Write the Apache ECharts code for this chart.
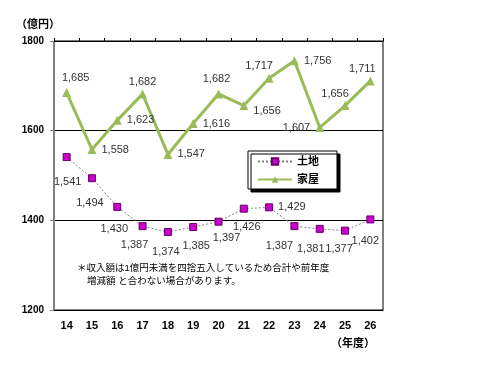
<!DOCTYPE html>
<html><head><meta charset="utf-8">
<script src="https://cdn.jsdelivr.net/npm/echarts@6/dist/echarts.min.js"></script>
<style>html,body{margin:0;padding:0;background:#fff}#c{width:480px;height:371px}</style>
</head><body><div id="c"></div>
<script>
const categories = ['14','15','16','17','18','19','20','21','22','23','24','25','26'];
const landValues = [1541,1494,1430,1387,1374,1385,1397,1426,1429,1387,1381,1377,1402];
const houseValues = [1685,1558,1623,1682,1547,1616,1682,1656,1717,1756,1607,1656,1711];
const yTicks = [1200,1400,1600,1800];
const seriesNames = ['土地','家屋'];

// label placement styling (not data)
const houseLabelPos = [
  ['top',[9,0]],['right',[0,0]],['right',[0,0]],['top',[0,3]],['right',[0,0]],['right',[0,0]],
  ['top',[-2,0]],['right',[0,5]],['top',[-10,3]],['right',[0,0]],['left',[0,0]],['top',[-10,3]],['top',[-8,3]]
];
const landLabelPos = [
  ['bottom',[1,10]],['bottom',[-2,10]],['bottom',[-3,8]],['bottom',[-8,4]],['bottom',[-2,5]],['bottom',[3,4]],
  ['bottom',[8,2]],['bottom',[3,4]],['right',[0,0]],['bottom',[-15,5]],['bottom',[-9,6]],['bottom',[-6,4]],['bottom',[-5,7]]
];
const FONT = '"Liberation Sans", "Noto Sans CJK JP", sans-serif';
const fmt = v => v.toLocaleString('en-US');

function withLabels(values, pos) {
  return values.map((v, i) => ({
    value: v,
    label: { position: pos[i][0], offset: pos[i][1] }
  }));
}

const chart = echarts.init(document.getElementById('c'), null, {renderer: 'canvas'});
chart.setOption({
  animation: false,
  backgroundColor: '#fff',
  grid: { left: 54, right: 97, top: 41, bottom: 61, show: true, borderColor: '#000', borderWidth: 1, backgroundColor: 'transparent' },
  legend: {
    orient: 'vertical', left: 248, top: 151,
    data: seriesNames,
    backgroundColor: '#fff', borderColor: '#000', borderWidth: 1,
    shadowColor: '#000', shadowOffsetX: 3, shadowOffsetY: 3, shadowBlur: 0,
    padding: [5, 18, 4, 9], itemGap: 7, itemWidth: 34, itemHeight: 8,
    textStyle: { fontFamily: FONT, fontWeight: 'bold', fontSize: 11, color: '#000' }
  },
  xAxis: [{
    type: 'category', data: categories, position: 'bottom', boundaryGap: true,
    axisLine: { show: true, lineStyle: { color: '#000', width: 1 } },
    axisTick: { show: false },
    axisLabel: { margin: 10, fontFamily: FONT, fontWeight: 'bold', fontSize: 11, color: '#000' }
  }, {
    type: 'category', data: categories, position: 'top', boundaryGap: true,
    axisLine: { show: true, lineStyle: { color: '#000', width: 1 } },
    axisTick: { show: true, length: 3, lineStyle: { color: '#000' } },
    axisLabel: { show: false }
  }],
  yAxis: {
    type: 'value', min: yTicks[0], max: yTicks[yTicks.length - 1], interval: 200,
    axisLine: { show: true, lineStyle: { color: '#808080', width: 1 } },
    axisTick: { show: true, length: 4, lineStyle: { color: '#808080' } },
    axisLabel: { margin: 10, formatter: v => String(v), fontFamily: FONT, fontWeight: 'bold', fontSize: 10, color: '#000' },
    splitLine: { show: true, lineStyle: { color: '#000', width: 1 } }
  },
  series: [{
    name: seriesNames[0], type: 'line', data: withLabels(landValues, landLabelPos),
    symbol: 'rect', symbolSize: 7,
    itemStyle: { color: '#CC00CC', borderColor: '#660066', borderWidth: 1 },
    lineStyle: { color: '#808080', width: 1, type: [2, 2] },
    label: { show: true, formatter: p => fmt(p.value), fontFamily: FONT, fontSize: 11, color: '#333', distance: 5 },
    z: 3
  }, {
    name: seriesNames[1], type: 'line', data: withLabels(houseValues, houseLabelPos),
    symbol: 'triangle', symbolSize: 9,
    itemStyle: { color: '#9BBB59' },
    lineStyle: { color: '#9BBB59', width: 3 },
    label: { show: true, formatter: p => fmt(p.value), fontFamily: FONT, fontSize: 11, color: '#333', distance: 5 },
    z: 2
  }],
  graphic: [
    { type: 'text', left: 16, top: 19, style: { text: '（億円）', fontFamily: FONT, fontWeight: 'bold', fontSize: 11, fill: '#000' } },
    { type: 'text', left: 331, top: 338, style: { text: '（年度）', fontFamily: FONT, fontWeight: 'bold', fontSize: 11, fill: '#000' } },
    { type: 'text', left: 77, top: 264, style: { text: '＊収入額は1億円未満を四捨五入しているため合計や前年度', fontFamily: FONT, fontSize: 9.5, fill: '#000' } },
    { type: 'text', left: 87, top: 277, style: { text: '増減額 と合わない場合があります。', fontFamily: FONT, fontSize: 9.5, fill: '#000' } }
  ]
});
</script>
</body></html>
